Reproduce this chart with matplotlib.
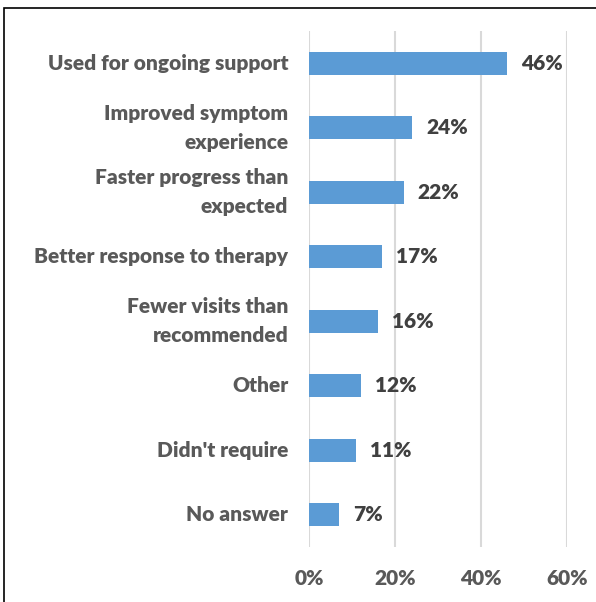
import matplotlib.pyplot as plt
from matplotlib.patches import Rectangle

categories = ["Used for ongoing support", "Improved symptom\nexperience",
              "Faster progress than\nexpected", "Better response to therapy",
              "Fewer visits than\nrecommended", "Other", "Didn't require", "No answer"]
percents = [46, 24, 22, 17, 16, 12, 11, 7]
xticks = [0, 20, 40, 60]

plt.rcParams['font.family'] = ['Lato', 'DejaVu Sans']

fig = plt.figure(figsize=(5.96, 6.02), dpi=100)
ax = fig.add_axes([309/596, 1 - 547/602, (567-309)/596, 516/602])

ypos = list(range(len(categories)))
ax.barh(ypos, percents, height=0.36, color="#5B9BD5", zorder=3)
for y, v in zip(ypos, percents):
    ax.text(v + 3.3, y, str(v) + "%", va="center", ha="left",
            fontsize=15, fontweight="heavy", color="#404040")

ax.set_xlim(0, 60)
ax.set_ylim(len(categories) - 0.5, -0.5)
ax.set_xticks(xticks)
ax.set_xticklabels([str(t) + "%" for t in xticks], fontsize=15,
                   fontweight="heavy", color="#595959")
ax.set_yticks(ypos)
ax.set_yticklabels(categories, fontsize=15, fontweight="heavy",
                   color="#595959", linespacing=1.6, va="center")
ax.tick_params(length=0, axis="y", pad=15)
ax.tick_params(length=0, axis="x", pad=16)
ax.grid(axis="x", color="#D9D9D9", linewidth=1.5, zorder=0)
for s in ax.spines.values():
    s.set_visible(False)

# outer frame, running off the right and bottom edges
fig.patches.append(Rectangle((4/596, -0.1), 1.1, 1 - 8/602 + 0.1, transform=fig.transFigure,
                             fill=False, edgecolor="black", linewidth=1.2))

fig.savefig("out.png", dpi=100)
